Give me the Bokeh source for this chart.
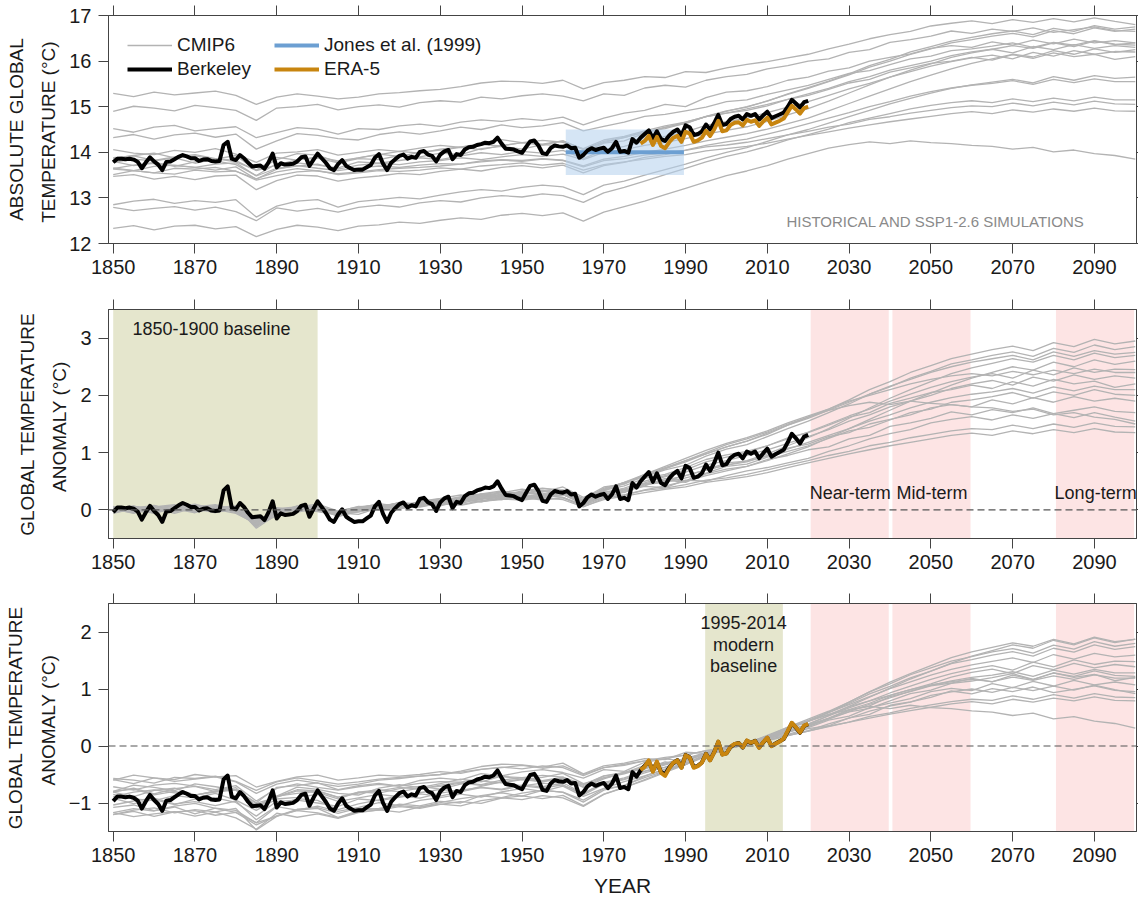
import numpy as np
from bokeh.plotting import figure
from bokeh.models import (Range1d, LinearAxis, FixedTicker, Span, BoxAnnotation, Label,
                          Legend, LegendItem)
from bokeh.layouts import column
from bokeh.embed import file_html
from bokeh.resources import INLINE

# ---------------- data ----------------
berkeley_years = list(range(1850, 2021))
# Berkeley Earth anomaly relative to 1850-1900 (deg C)
berkeley_anom = [
    -0.04, 0.04, 0.04, 0.03, 0.04, 0.02, -0.03, -0.17, -0.04, 0.07,
    -0.02, -0.09, -0.21, -0.03, -0.02, 0.03, 0.08, 0.12, 0.09, 0.05,
    0.05, -0.01, 0.02, 0.03, -0.01, -0.02, -0.01, 0.34, 0.41, 0.04,
    0.01, 0.12, 0.05, -0.05, -0.13, -0.12, -0.11, -0.18, -0.04, 0.15,
    -0.15, -0.06, -0.09, -0.08, -0.07, -0.02, 0.07, 0.09, -0.12, 0.02,
    0.15, 0.05, -0.05, -0.17, -0.21, -0.08, 0.01, -0.12, -0.17, -0.21,
    -0.20, -0.20, -0.15, -0.10, 0.06, 0.14, -0.07, -0.21, -0.05, 0.03,
    0.10, 0.13, 0.04, 0.08, 0.06, 0.19, 0.21, 0.13, 0.10, -0.02,
    0.13, 0.20, 0.23, 0.03, 0.14, 0.12, 0.24, 0.29, 0.30, 0.34,
    0.36, 0.39, 0.38, 0.41, 0.50, 0.37, 0.26, 0.25, 0.24, 0.20,
    0.17, 0.30, 0.42, 0.44, 0.33, 0.16, 0.14, 0.27, 0.33, 0.31,
    0.30, 0.33, 0.27, 0.28, 0.06, 0.12, 0.22, 0.27, 0.23, 0.26,
    0.28, 0.19, 0.27, 0.41, 0.19, 0.21, 0.17, 0.47, 0.39, 0.50,
    0.58, 0.66, 0.49, 0.64, 0.47, 0.43, 0.55, 0.63, 0.68, 0.55,
    0.77, 0.73, 0.56, 0.58, 0.64, 0.79, 0.68, 0.82, 1.00, 0.78,
    0.80, 0.91, 0.96, 0.98, 0.90, 1.02, 0.98, 1.02, 0.90, 0.99,
    1.07, 0.93, 0.97, 1.01, 1.05, 1.18, 1.33, 1.25, 1.16, 1.28,
    1.31,
]
berkeley_abs_baseline = 13.82  # 1850-1900 absolute mean

era5_years = list(range(1979, 2021))
era5_abs = [
    14.19, 14.25, 14.36, 14.16, 14.34, 14.14, 14.09, 14.22, 14.32, 14.36,
    14.23, 14.45, 14.41, 14.23, 14.26, 14.32, 14.47, 14.36, 14.50, 14.69,
    14.46, 14.48, 14.60, 14.65, 14.66, 14.59, 14.71, 14.67, 14.70, 14.58,
    14.68, 14.76, 14.61, 14.65, 14.69, 14.74, 14.88, 15.02, 14.94, 14.85,
    14.97, 15.00,
]

jones_period = (1961, 1990)
jones_mean = 14.0
jones_unc = 0.5

cmip_years = list(range(1850, 2101, 5))
cmip_base_abs = [15.25, 14.95, 14.50, 14.35, 14.00, 13.90, 13.85, 13.80, 13.75,
                 13.70, 13.65, 13.60, 13.55, 13.45, 12.90, 12.75, 12.35]
cmip_anom = [
    [0.04, -0.03, 0.07, 0.01, 0.05, 0.09, 0.00, -0.20, -0.04, 0.03, -0.02,
     -0.08, -0.04, 0.03, 0.06, 0.10, 0.13, 0.19, 0.27, 0.31, 0.30, 0.26, 0.33,
     0.14, 0.28, 0.33, 0.41, 0.39, 0.52, 0.50, 0.60, 0.68, 0.74, 0.82, 0.90,
     1.02, 1.12, 1.24, 1.33, 1.40, 1.52, 1.58, 1.63,
     1.57, 1.66, 1.60, 1.68, 1.61, 1.70, 1.62, 1.55],
    [-0.05, 0.06, 0.02, -0.04, 0.08, 0.03, -0.03, -0.25, 0.02, 0.05, 0.10,
     -0.02, 0.05, 0.09, 0.04, 0.14, 0.18, 0.15, 0.26, 0.22, 0.29, 0.33, 0.28,
     0.18, 0.33, 0.30, 0.46, 0.52, 0.48, 0.63, 0.71, 0.76, 0.88, 0.95, 1.05,
     1.10, 1.24, 1.30, 1.46, 1.52, 1.60, 1.71, 1.66,
     1.75, 1.70, 1.78, 1.68, 1.74, 1.80, 1.72, 1.70],
    [0.02, -0.06, 0.05, 0.09, -0.03, 0.02, 0.06, -0.18, -0.07, 0.04, 0.01,
     -0.10, 0.02, 0.00, 0.08, 0.12, 0.07, 0.16, 0.21, 0.18, 0.24, 0.20, 0.27,
     0.10, 0.25, 0.36, 0.42, 0.55, 0.50, 0.70, 0.82, 0.85, 0.94, 1.08, 1.15,
     1.28, 1.35, 1.50, 1.58, 1.66, 1.78, 1.84, 1.80,
     1.92, 1.85, 1.96, 1.88, 1.98, 1.90, 1.95, 1.90],
    [-0.03, 0.04, -0.06, 0.03, 0.07, -0.02, 0.05, -0.28, -0.10, 0.06, 0.02,
     -0.05, -0.08, 0.04, 0.10, 0.05, 0.12, 0.20, 0.15, 0.25, 0.19, 0.23, 0.30,
     0.12, 0.22, 0.31, 0.44, 0.48, 0.56, 0.64, 0.76, 0.80, 0.92, 1.02, 1.12,
     1.25, 1.38, 1.44, 1.57, 1.70, 1.76, 1.88, 1.92,
     1.98, 2.05, 1.95, 2.06, 2.00, 2.10, 2.02, 2.00],
    [0.06, -0.02, -0.05, 0.04, 0.00, 0.08, -0.04, -0.22, -0.02, 0.01, 0.06,
     -0.06, 0.00, 0.06, 0.02, 0.09, 0.15, 0.11, 0.20, 0.28, 0.21, 0.26, 0.22,
     0.08, 0.27, 0.35, 0.47, 0.58, 0.66, 0.78, 0.86, 0.95, 1.05, 1.16, 1.28,
     1.40, 1.55, 1.66, 1.80, 1.90, 2.00, 2.12, 2.20,
     2.26, 2.18, 2.32, 2.25, 2.36, 2.28, 2.34, 2.30],
    [-0.04, 0.03, 0.08, -0.02, 0.02, -0.05, 0.03, -0.30, -0.06, 0.07, 0.04,
     -0.12, -0.02, 0.05, 0.12, 0.08, 0.17, 0.22, 0.27, 0.24, 0.31, 0.28, 0.35,
     0.16, 0.34, 0.42, 0.55, 0.62, 0.74, 0.88, 0.96, 1.02, 1.12, 1.26, 1.35,
     1.48, 1.62, 1.70, 1.86, 1.95, 2.05, 2.10, 2.18,
     2.12, 2.24, 2.16, 2.28, 2.20, 2.25, 2.14, 2.20],
    [0.03, 0.07, -0.03, 0.05, 0.10, 0.01, -0.06, -0.24, 0.04, -0.02, 0.05,
     -0.04, 0.03, 0.11, 0.06, 0.15, 0.20, 0.26, 0.21, 0.30, 0.36, 0.31, 0.40,
     0.22, 0.36, 0.48, 0.58, 0.70, 0.78, 0.94, 1.06, 1.14, 1.28, 1.42, 1.55,
     1.70, 1.85, 2.02, 2.15, 2.30, 2.42, 2.55, 2.62,
     2.70, 2.76, 2.68, 2.82, 2.75, 2.88, 2.80, 2.85],
    [-0.02, 0.05, 0.01, 0.08, -0.04, 0.06, 0.02, -0.20, -0.08, 0.04, 0.07,
     -0.03, 0.06, 0.04, 0.13, 0.10, 0.18, 0.15, 0.28, 0.33, 0.27, 0.37, 0.34,
     0.20, 0.40, 0.45, 0.62, 0.74, 0.86, 0.98, 1.10, 1.20, 1.32, 1.48, 1.62,
     1.76, 1.92, 2.10, 2.24, 2.40, 2.52, 2.64, 2.72,
     2.80, 2.86, 2.78, 2.92, 2.85, 2.98, 2.90, 2.95],
    [0.05, -0.04, 0.03, -0.06, 0.04, 0.06, -0.02, -0.26, 0.00, 0.02, -0.03,
     -0.09, 0.04, 0.01, 0.07, 0.13, 0.09, 0.17, 0.24, 0.20, 0.27, 0.23, 0.29,
     0.11, 0.30, 0.38, 0.50, 0.60, 0.70, 0.84, 0.92, 1.00, 1.12, 1.24, 1.36,
     1.50, 1.64, 1.76, 1.90, 2.02, 2.14, 2.24, 2.32,
     2.38, 2.30, 2.44, 2.36, 2.48, 2.40, 2.46, 2.45],
    [-0.06, 0.02, 0.06, 0.01, -0.03, 0.04, 0.07, -0.22, -0.05, 0.00, 0.04,
     -0.07, 0.02, 0.06, 0.03, 0.09, 0.12, 0.18, 0.14, 0.20, 0.25, 0.21, 0.26,
     0.14, 0.30, 0.36, 0.45, 0.52, 0.60, 0.70, 0.78, 0.86, 0.98, 1.12, 1.26,
     1.42, 1.60, 1.78, 1.95, 2.10, 2.24, 2.38, 2.48,
     2.56, 2.64, 2.58, 2.70, 2.62, 2.74, 2.66, 2.70],
    [0.01, -0.05, 0.04, 0.07, 0.02, -0.04, 0.03, -0.24, -0.02, 0.06, 0.00,
     -0.05, 0.01, 0.05, 0.02, 0.07, 0.10, 0.09, 0.16, 0.19, 0.17, 0.21, 0.18,
     0.05, 0.20, 0.26, 0.35, 0.42, 0.50, 0.60, 0.68, 0.76, 0.86, 0.98, 1.10,
     1.26, 1.42, 1.58, 1.74, 1.90, 2.04, 2.18, 2.30,
     2.40, 2.50, 2.44, 2.58, 2.50, 2.62, 2.54, 2.60],
    [0.03, 0.00, -0.05, 0.05, 0.03, 0.07, -0.02, -0.18, -0.03, 0.04, -0.01,
     -0.07, -0.03, 0.02, 0.05, 0.07, 0.10, 0.14, 0.19, 0.23, 0.20, 0.25, 0.22,
     0.08, 0.22, 0.26, 0.34, 0.38, 0.44, 0.52, 0.56, 0.62, 0.70, 0.78, 0.86,
     0.95, 1.02, 1.12, 1.18, 1.26, 1.32, 1.38, 1.42,
     1.40, 1.48, 1.42, 1.50, 1.44, 1.52, 1.46, 1.45],
    [-0.04, 0.05, 0.00, -0.03, 0.06, 0.02, 0.04, -0.16, -0.06, 0.02, 0.05,
     -0.04, 0.00, 0.05, 0.03, 0.06, 0.11, 0.08, 0.15, 0.18, 0.22, 0.17, 0.21,
     0.06, 0.18, 0.24, 0.30, 0.36, 0.40, 0.48, 0.53, 0.58, 0.65, 0.74, 0.82,
     0.90, 0.98, 1.05, 1.12, 1.18, 1.24, 1.30, 1.34,
     1.30, 1.38, 1.33, 1.40, 1.35, 1.42, 1.36, 1.35],
    [0.02, 0.06, -0.04, 0.02, -0.05, 0.03, 0.05, -0.27, -0.07, 0.05, 0.03,
     -0.08, -0.01, 0.03, 0.09, 0.06, 0.13, 0.18, 0.14, 0.22, 0.26, 0.21, 0.27,
     0.10, 0.26, 0.33, 0.44, 0.50, 0.60, 0.70, 0.78, 0.84, 0.95, 1.06, 1.18,
     1.30, 1.42, 1.55, 1.66, 1.78, 1.88, 1.96, 2.02,
     2.06, 2.12, 2.04, 2.15, 2.08, 2.16, 2.10, 2.10],
    [-0.05, 0.03, 0.07, -0.02, 0.04, 0.00, 0.06, -0.32, -0.08, 0.03, 0.06,
     -0.10, 0.02, 0.06, 0.11, 0.08, 0.16, 0.23, 0.28, 0.25, 0.33, 0.38, 0.34,
     0.17, 0.38, 0.47, 0.60, 0.72, 0.84, 0.98, 1.10, 1.20, 1.34, 1.48, 1.60,
     1.74, 1.88, 2.02, 2.16, 2.28, 2.40, 2.50, 2.58,
     2.64, 2.70, 2.62, 2.76, 2.68, 2.78, 2.72, 2.75],
    [0.04, -0.03, 0.02, 0.06, -0.02, 0.05, -0.05, -0.25, 0.03, -0.04, 0.02,
     -0.06, 0.04, 0.09, 0.05, 0.14, 0.19, 0.16, 0.25, 0.30, 0.27, 0.34, 0.30,
     0.15, 0.36, 0.48, 0.62, 0.76, 0.90, 1.04, 1.16, 1.26, 1.38, 1.52, 1.64,
     1.76, 1.90, 2.00, 2.10, 2.20, 2.28, 2.34, 2.38,
     2.34, 2.42, 2.36, 2.44, 2.38, 2.46, 2.40, 2.40],
    [-0.02, 0.04, -0.05, 0.03, 0.05, -0.03, 0.02, -0.20, -0.04, 0.05, 0.01,
     -0.07, 0.03, 0.06, 0.12, 0.09, 0.16, 0.21, 0.18, 0.27, 0.31, 0.26, 0.32,
     0.14, 0.34, 0.46, 0.58, 0.72, 0.86, 1.00, 1.14, 1.24, 1.36, 1.50, 1.62,
     1.74, 1.82, 1.88, 1.84, 1.90, 1.86, 1.84, 1.80,
     1.78, 1.72, 1.76, 1.66, 1.70, 1.62, 1.58, 1.50],
]

baseline_pre = (1850, 1900)
baseline_modern = (1995, 2014)
term_labels = ["Near-term", "Mid-term", "Long-term"]
term_periods = [(2021, 2040), (2041, 2060), (2081, 2100)]
x_ticks = list(range(1850, 2091, 20))

# ---------------- derived series ----------------
cy = np.array(cmip_years)
ca = np.array(cmip_anom)
c_abs = ca + np.array(cmip_base_abs)[:, None]
c_mod = ca - ca[:, (cy >= baseline_modern[0]) & (cy <= baseline_modern[1])].mean(axis=1, keepdims=True)

by = np.array(berkeley_years)
ba = np.array(berkeley_anom)
b_abs = ba + berkeley_abs_baseline
b_mod = ba - ba[(by >= baseline_modern[0]) & (by <= baseline_modern[1])].mean()

ey = np.array(era5_years)
ea = np.array(era5_abs)
e_mod = ea - ea[(ey >= baseline_modern[0]) & (ey <= baseline_modern[1])].mean()

# ---------------- style ----------------
FONT = "Liberation Sans"
AX = "#444444"
TXT = "#1a1a1a"
GRAY = "#b3b3b3"
ORANGE = "#c8850f"
BLUE = "#6c9fd2"
OLIVE = "#e5e6cd"
PINK = "#fde4e4"
W, H = 1138, 902
XMIN, XMAX = 1848.85, 2100.3
FRAME_L = 108


def make_panel(height, b_top, b_bottom, yr, yticks, ylabel, xlabel=None):
    p = figure(width=W, height=height, x_range=Range1d(XMIN, XMAX), y_range=Range1d(*yr),
               output_backend="svg", toolbar_location=None,
               x_axis_location=None, y_axis_location=None,
               min_border_left=FRAME_L, min_border_right=2,
               min_border_top=b_top, min_border_bottom=b_bottom,
               background_fill_color="white", border_fill_color="white")
    p.grid.visible = False
    p.outline_line_color = AX
    p.outline_line_width = 1
    for loc, ticks, show, out in [("below", x_ticks, True, 10), ("above", x_ticks, False, 10),
                                  ("left", yticks, True, 10), ("right", yticks, False, 2)]:
        ax = LinearAxis(ticker=FixedTicker(ticks=ticks))
        ax.major_tick_out = out
        ax.major_tick_in = 0
        ax.minor_tick_out = 0
        ax.minor_tick_in = 0
        ax.axis_line_color = AX
        ax.major_tick_line_color = AX
        ax.major_label_text_font = FONT
        ax.major_label_text_color = TXT
        if show:
            ax.major_label_text_font_size = "20px"
            ax.major_label_standoff = 6 if loc == "below" else 7
        else:
            ax.major_label_text_font_size = "0px"
            ax.major_label_standoff = 0
        if loc == "left":
            ax.axis_label = ylabel
            ax.axis_label_text_font = FONT
            ax.axis_label_text_font_size = "19px"
            ax.axis_label_text_font_style = "normal"
            ax.axis_label_text_color = TXT
            ax.axis_label_text_line_height = 1.55
            ax.axis_label_standoff = 7
        if loc == "below" and xlabel:
            ax.axis_label = xlabel
            ax.axis_label_text_font = FONT
            ax.axis_label_text_font_size = "21px"
            ax.axis_label_text_font_style = "normal"
            ax.axis_label_text_color = TXT
            ax.axis_label_standoff = 9
        p.add_layout(ax, loc)
    return p


def label(p, x, y, text, size="18px", color=TXT, align="left"):
    p.add_layout(Label(x=x, y=y, text=text, text_font=FONT, text_font_size=size,
                       text_color=color, text_align=align, text_baseline="middle"))


# ---------------- panel 1 ----------------
p1 = make_panel(290, 15, 47, (12, 17), [12, 13, 14, 15, 16, 17],
                "ABSOLUTE GLOBAL\nTEMPERATURE  (°C)")
r_c1 = p1.multi_line(xs=[cmip_years] * len(cmip_anom), ys=[list(r) for r in c_abs],
                     line_color=GRAY, line_width=1.3)
p1.quad(left=[jones_period[0] - 0.3], right=[jones_period[1] - 0.4],
        bottom=[jones_mean - jones_unc], top=[jones_mean + jones_unc],
        fill_color="#b3cfec", fill_alpha=0.55, line_color=None)
r_j = p1.line([jones_period[0] - 0.3, jones_period[1] - 0.4], [jones_mean, jones_mean],
              line_color=BLUE, line_width=4)
r_b1 = p1.line(berkeley_years, list(b_abs), line_color="black", line_width=4, line_join="round")
r_e1 = p1.line(era5_years, era5_abs, line_color=ORANGE, line_width=4, line_join="round")
label(p1, 2051.2, 12.48, "HISTORICAL AND SSP1-2.6 SIMULATIONS", size="15px", color="#8a8a8a",
      align="center")
leg = Legend(items=[LegendItem(label="CMIP6", renderers=[r_c1]),
                    LegendItem(label="Berkeley", renderers=[r_b1]),
                    LegendItem(label="Jones et al. (1999)", renderers=[r_j]),
                    LegendItem(label="ERA-5", renderers=[r_e1])],
             location="top_left", nrows=2, margin=10, padding=9, spacing=2,
             glyph_width=45, glyph_height=20, label_width=95, label_standoff=5,
             label_text_font=FONT, label_text_font_size="19px", label_text_color=TXT,
             background_fill_alpha=0, border_line_alpha=0)
p1.add_layout(leg)

# ---------------- panel 2 ----------------
p2 = make_panel(294, 19, 46, (-0.5, 3.5), [0, 1, 2, 3],
                "GLOBAL TEMPERATURE\nANOMALY  (°C)")
p2.add_layout(BoxAnnotation(left=baseline_pre[0], right=baseline_pre[1], fill_color=OLIVE,
                            fill_alpha=1, line_color=None, level="underlay"))
for (a, b) in term_periods:
    p2.add_layout(BoxAnnotation(left=a - 0.4, right=b - 0.3, fill_color=PINK, fill_alpha=1,
                                line_color=None, level="underlay"))
p2.add_layout(Span(location=0, dimension="width", line_color="#555555", line_dash="7 4",
                   line_width=1.2))
p2.multi_line(xs=[cmip_years] * len(cmip_anom), ys=[list(r) for r in ca],
              line_color=GRAY, line_width=1.3)
p2.line(berkeley_years, berkeley_anom, line_color="black", line_width=4, line_join="round")
label(p2, 1854.7, 3.16, "1850-1900 baseline")
for txt, (a, b) in zip(term_labels, term_periods):
    label(p2, (a + b) / 2.0 - 0.2, 0.29, txt, align="center")

# ---------------- panel 3 ----------------
p3 = make_panel(318, 19, 71, (-1.5, 2.5), [-1, 0, 1, 2],
                "GLOBAL TEMPERATURE\nANOMALY  (°C)", xlabel="YEAR")
p3.add_layout(BoxAnnotation(left=baseline_modern[0] - 0.2, right=baseline_modern[1] - 0.2,
                            fill_color=OLIVE, fill_alpha=1, line_color=None, level="underlay"))
for (a, b) in term_periods:
    p3.add_layout(BoxAnnotation(left=a - 0.4, right=b - 0.3, fill_color=PINK, fill_alpha=1,
                                line_color=None, level="underlay"))
p3.add_layout(Span(location=0, dimension="width", line_color="#555555", line_dash="7 4",
                   line_width=1.2))
p3.multi_line(xs=[cmip_years] * len(cmip_anom), ys=[list(r) for r in c_mod],
              line_color=GRAY, line_width=1.3)
p3.line(berkeley_years, list(b_mod), line_color="black", line_width=4, line_join="round")
p3.line(era5_years, list(e_mod), line_color=ORANGE, line_width=4, line_join="round")
mx = (baseline_modern[0] + baseline_modern[1]) / 2.0 - 0.3
label(p3, mx, 2.17, "1995-2014", align="center")
label(p3, mx, 1.78, "modern", align="center")
label(p3, mx, 1.40, "baseline", align="center")

layout = column(p1, p2, p3, spacing=0)
open("out.html", "w").write(file_html(layout, INLINE))
